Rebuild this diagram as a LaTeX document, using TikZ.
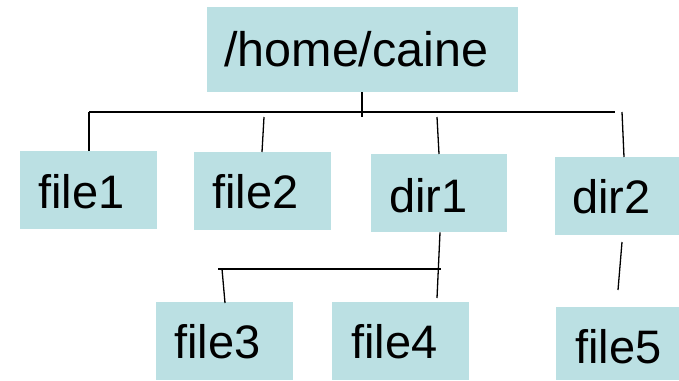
\documentclass[tikz,border=0pt]{standalone}
\usepackage{fontspec}
\setmainfont{Liberation Sans}
\begin{document}
\begin{tikzpicture}[x=1pt,y=-1pt,
  box/.style={fill=boxfill, draw=none, inner sep=0pt, anchor=north west},
  lbl/.style={anchor=base west, inner sep=0pt, font=\fontsize{47}{47}\selectfont},
  link/.style={draw=black, line width=1.3pt},
  bar/.style={draw=black, line width=2pt}]
\definecolor{boxfill}{RGB}{187,224,227}
\useasboundingbox (0,0) rectangle (679,380);

% directory boxes
\node[box, minimum width=311pt, minimum height=85pt] (root) at (207,7) {};
\node[box, minimum width=137pt, minimum height=78pt] (file1) at (20,151) {};
\node[box, minimum width=137pt, minimum height=78pt] (file2) at (194,152) {};
\node[box, minimum width=136pt, minimum height=78pt] (dir1) at (371,154) {};
\node[box, minimum width=124pt, minimum height=78pt] (dir2) at (555,157) {};
\node[box, minimum width=137pt, minimum height=78pt] (file3) at (156,302) {};
\node[box, minimum width=137pt, minimum height=78pt] (file4) at (332,302) {};
\node[box, minimum width=123pt, minimum height=73pt] (file5) at (556,307) {};

% labels
\node[lbl, font=\fontsize{48.5}{48.5}\selectfont] (roott) at (224,66) {/home/caine};
\node[lbl] (file1t) at (38,208) {file1};
\node[lbl] (file2t) at (212,208) {file2};
\node[lbl] (dir1t) at (389,212) {dir1};
\node[lbl] (dir2t) at (572,213) {dir2};
\node[lbl] (file3t) at (174,358) {file3};
\node[lbl] (file4t) at (351,358) {file4};
\node[lbl] (file5t) at (575,363) {file5};

% connector points
\coordinate (rs) at (362,117);
\coordinate (bl) at (89,112);
\coordinate (br) at (615,112);
\coordinate (f2a) at (264,117);
\coordinate (d1a) at (437,117);
\coordinate (d2a) at (622,112);
\coordinate (d1b) at (437,298);
\coordinate (b2l) at (218,269);
\coordinate (b2r) at (441,269);
\coordinate (f3a) at (222,269);
\coordinate (d2b) at (622,242);
\coordinate (f5a) at (618,290);

% first level
\draw[link] (root.south -| rs) -- (rs);
\draw[bar] (bl) -- (br);
\draw[link] (bl) -- (file1.north -| bl);
\draw[link] (f2a) -- ([xshift=-2pt]file2.north -| f2a);
\draw[link] (d1a) -- ([xshift=2pt]dir1.north -| d1a);
\draw[link] (d2a) -- ([xshift=2pt]dir2.north -| d2a);

% second level
\draw[link] ([xshift=3pt]dir1.south -| d1b) -- (d1b);
\draw[bar] (b2l) -- (b2r);
\draw[link] (f3a) -- ([xshift=3pt,yshift=-1pt]file3.north -| f3a);
\draw[link] (d2b) -- (f5a);
\end{tikzpicture}
\end{document}
